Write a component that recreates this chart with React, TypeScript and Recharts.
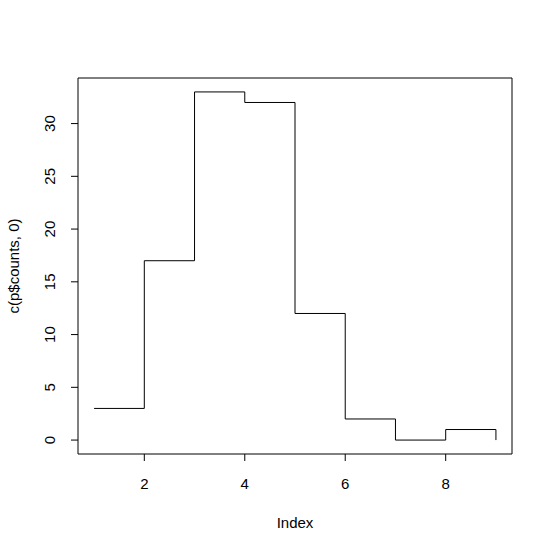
import React from "react";
import { LineChart, Line, XAxis, YAxis, ReferenceArea } from "recharts";

const indexValues = [1, 2, 3, 4, 5, 6, 7, 8, 9];
const counts = [3, 17, 33, 32, 12, 2, 0, 1, 0];
const xTicks = [2, 4, 6, 8];
const yTicks = [0, 5, 10, 15, 20, 25, 30];
const xLabel = "Index";
const yLabel = "c(p$counts, 0)";

const data = indexValues.map((x, i) => ({ x, y: counts[i] }));

const FONT = "'Liberation Sans', Arial, sans-serif";
const FS = 15;

const xMin = 1 - 0.04 * 8;
const xMax = 9 + 0.04 * 8;
const yMin = 0 - 0.04 * 33;
const yMax = 33 + 0.04 * 33;

const YTick = (props: any) => {
  const { x, y, payload } = props;
  return (
    <text
      x={x}
      y={y}
      transform={`rotate(-90, ${x}, ${y})`}
      textAnchor="middle"
      fontSize={FS}
      fontFamily={FONT}
      fill="#000"
    >
      {payload.value}
    </text>
  );
};

export default function App() {
  return (
    <div style={{ position: "absolute", left: 0, top: 0, width: 553, height: 552, background: "#fff" }}>
      <LineChart
        width={553}
        height={552}
        data={data}
        margin={{ top: 78, right: 41, bottom: 38, left: 0 }}
      >
        <XAxis
          dataKey="x"
          type="number"
          domain={[xMin, xMax]}
          ticks={xTicks}
          allowDataOverflow
          axisLine={false}
          tickLine={{ stroke: "#000" }}
          tickSize={7}
          tickMargin={17}
          height={60}
          tick={{ fill: "#000", fontSize: FS, fontFamily: FONT }}
          label={{
            content: (p: any) => {
              const vb = p.viewBox;
              return (
                <text
                  x={vb.x + vb.width / 2}
                  y={528}
                  textAnchor="middle"
                  fontSize={FS}
                  fontFamily={FONT}
                  fill="#000"
                >
                  {xLabel}
                </text>
              );
            },
          }}
        />
        <YAxis
          type="number"
          domain={[yMin, yMax]}
          ticks={yTicks}
          allowDataOverflow
          axisLine={false}
          tickLine={{ stroke: "#000" }}
          tickSize={7}
          tickMargin={16}
          width={78}
          tick={<YTick />}
          label={{
            content: (p: any) => {
              const vb = p.viewBox;
              const cx = 19;
              const cy = vb.y + vb.height / 2;
              return (
                <text
                  x={cx}
                  y={cy}
                  transform={`rotate(-90, ${cx}, ${cy})`}
                  textAnchor="middle"
                  fontSize={FS}
                  fontFamily={FONT}
                  fill="#000"
                >
                  {yLabel}
                </text>
              );
            },
          }}
        />
        <ReferenceArea
          x1={xMin}
          x2={xMax}
          y1={yMin}
          y2={yMax}
          fill="none"
          stroke="#000"
          strokeWidth={1}
          ifOverflow="visible"
        />
        <Line
          dataKey="y"
          type="stepAfter"
          stroke="#000"
          strokeWidth={1}
          dot={false}
          isAnimationActive={false}
        />
      </LineChart>
    </div>
  );
}
